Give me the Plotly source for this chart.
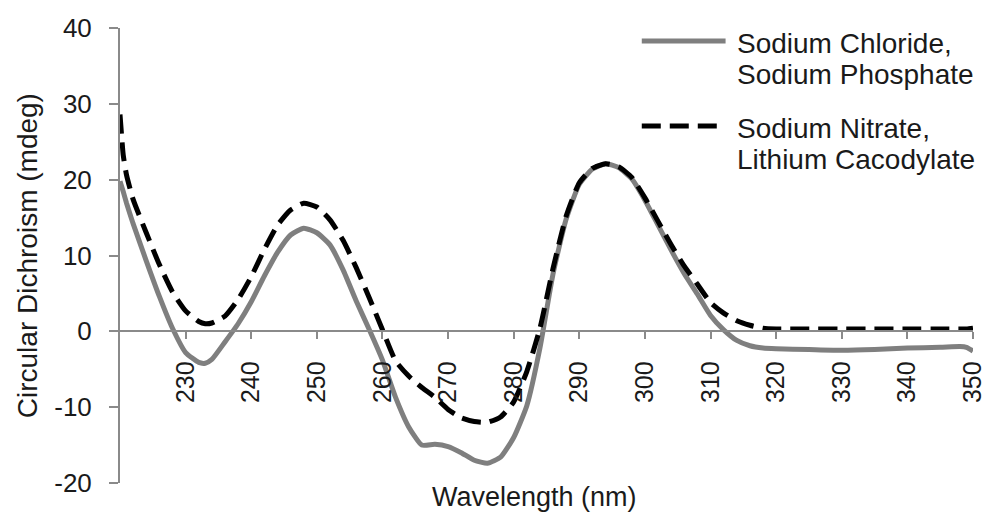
import plotly.graph_objects as go

# ---- data ----
wavelength = [220, 220.5, 221, 222, 224, 226, 228, 230, 232, 233, 234, 236, 238, 240,
              242, 244, 246, 248, 250, 252, 254, 256, 258, 260, 262, 264, 266, 268,
              270, 272, 274, 276, 278, 280, 282, 284, 286, 288, 290, 292, 294, 296,
              298, 300, 302, 304, 306, 308, 310, 312, 314, 316, 318, 320, 325, 330,
              335, 340, 345, 348, 349, 350]

nacl_naphos = [19.8, 18.4, 16.9, 14.2, 9.3, 4.6, 0.4, -2.8, -4.1, -4.2, -3.7, -1.4, 1.0, 3.9,
               7.3, 10.4, 12.7, 13.6, 13.0, 11.4, 8.1, 4.0, 0.2, -3.8, -8.7, -12.6, -15.0, -14.9,
               -15.2, -16.0, -17.0, -17.4, -16.6, -14.0, -9.8, -2.2, 7.6, 14.8, 19.4, 21.4, 22.1, 21.6,
               20.1, 17.3, 14.0, 10.7, 7.6, 4.9, 2.1, 0.2, -1.2, -1.9, -2.2, -2.3, -2.4, -2.5,
               -2.4, -2.2, -2.1, -2.0, -2.1, -2.6]

nano3_licac = [28.6, 23.2, 20.6, 17.4, 13.0, 8.8, 5.2, 2.7, 1.3, 1.0, 1.1, 2.0, 4.2, 7.2,
               10.8, 14.0, 16.0, 16.9, 16.4, 14.7, 12.0, 8.4, 4.4, 0.2, -3.9, -5.9, -7.4, -8.7,
               -10.3, -11.4, -11.9, -12.0, -11.3, -9.3, -5.3, 0.4, 8.3, 15.2, 19.6, 21.5, 22.1, 21.7,
               20.3, 17.6, 14.5, 11.4, 8.6, 6.2, 3.8, 2.4, 1.4, 0.8, 0.4, 0.3, 0.3, 0.3,
               0.3, 0.3, 0.3, 0.3, 0.3, 0.4]

series_names = ["Sodium Chloride,<br>Sodium Phosphate", "Sodium Nitrate,<br>Lithium Cacodylate"]
legend_lines = [["Sodium Chloride,", "Sodium Phosphate"], ["Sodium Nitrate,", "Lithium Cacodylate"]]
x_ticks = [230, 240, 250, 260, 270, 280, 290, 300, 310, 320, 330, 340, 350]
y_ticks = [-20, -10, 0, 10, 20, 30, 40]

# ---- layout constants ----
W, H = 998, 523
ML, MR, MT, MB = 120, 23, 28, 40
PW, PH = W - ML - MR, H - MT - MB
FONT = "Liberation Sans, Arial, sans-serif"
GREY = "#7f7f7f"
AXIS = "#8a8a8a"
TXT = "#1a1a1a"


def px_x(p):
    return (p - ML) / PW


def px_y(p):
    return (H - MB - p) / PH


fig = go.Figure()
fig.add_trace(go.Scatter(x=wavelength, y=nacl_naphos, mode="lines", name=series_names[0],
                         line=dict(color=GREY, width=5, shape="spline", smoothing=0.5),
                         showlegend=False))
fig.add_trace(go.Scatter(x=wavelength, y=nano3_licac, mode="lines", name=series_names[1],
                         line=dict(color="black", width=5, dash="19px,9px", shape="spline", smoothing=0.5),
                         showlegend=False))

ymin, ymax = -20, 40
fig.update_layout(
    width=W, height=H,
    margin=dict(l=ML, r=MR, t=MT, b=MB, pad=0),
    paper_bgcolor="white", plot_bgcolor="white",
    font=dict(family=FONT, color=TXT),
    showlegend=False,
    xaxis=dict(range=[220, 350], tickvals=x_ticks, ticktext=[str(v) for v in x_ticks],
               tickangle=-90, ticks="outside", ticklen=7, tickcolor=AXIS, tickwidth=1.5,
               showline=True, linecolor=AXIS, linewidth=2, showgrid=False, zeroline=False,
               anchor="free", position=(0 - ymin) / (ymax - ymin),
               tickfont=dict(size=25, family=FONT, color=TXT), ticklabelstandoff=12),
    yaxis=dict(range=[ymin, ymax], tickvals=y_ticks, ticktext=[str(v) for v in y_ticks],
               ticks="outside", ticklen=9,
               tickcolor=AXIS, tickwidth=1.5, showline=True, linecolor=AXIS, linewidth=2,
               showgrid=False, zeroline=False,
               tickfont=dict(size=26, family=FONT, color=TXT), ticklabelstandoff=12),
)

annotations = [
    dict(text="Wavelength (nm)", xref="paper", yref="paper", x=px_x(535), y=px_y(497),
         xanchor="center", yanchor="middle", showarrow=False, font=dict(size=27, family=FONT)),
    dict(text="Circular Dichroism (mdeg)", xref="paper", yref="paper", x=px_x(27), y=px_y(256),
         xanchor="center", yanchor="middle", textangle=-90, showarrow=False,
         font=dict(size=28, family=FONT)),
]
text_centres = [[43.5, 75], [128, 159.5]]
for lines, centres in zip(legend_lines, text_centres):
    for t, c in zip(lines, centres):
        annotations.append(dict(text=t, xref="paper", yref="paper", x=px_x(736), y=px_y(c),
                                xanchor="left", yanchor="middle", showarrow=False,
                                font=dict(size=28, family=FONT)))
fig.update_layout(annotations=annotations)

fig.add_shape(type="line", xref="paper", yref="paper", x0=px_x(643), x1=px_x(727),
              y0=px_y(41), y1=px_y(41), line=dict(color=GREY, width=5))
fig.add_shape(type="line", xref="paper", yref="paper", x0=px_x(643), x1=px_x(727),
              y0=px_y(126), y1=px_y(126), line=dict(color="black", width=5, dash="19px,9px"))

fig.write_html("out.html")
